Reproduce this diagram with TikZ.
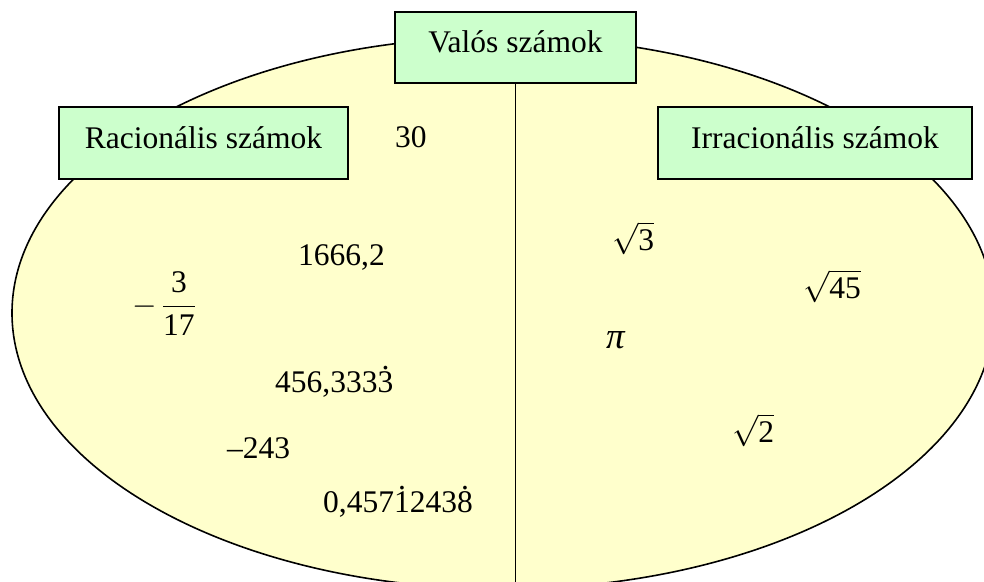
\RequirePackage{fix-cm}
\documentclass[tikz,border=0pt]{standalone}
\usepackage{fontspec}
\setmainfont{Liberation Serif}
\definecolor{ellfill}{HTML}{FFFFCC}
\definecolor{boxgreen}{HTML}{CCFFCC}
\newcommand\dotdig[1]{\ooalign{#1\cr\hidewidth\raisebox{0.7em}{.}\hidewidth\cr}}
\begin{document}
\begin{tikzpicture}[x=1pt,y=-1pt,
  every node/.style={font=\fontsize{31.5}{38}\selectfont, inner sep=0pt},
  box/.style={draw, line width=1.6pt, fill=boxgreen, text height=22pt, text depth=12pt},
  num/.style={anchor=base west}]
\useasboundingbox (0,0) rectangle (984,581);
\clip (0,0) rectangle (984,581);
\draw[fill=ellfill, line width=1.6pt] (503,313) ellipse [x radius=491pt, y radius=276pt];
\node[box, minimum width=241pt, minimum height=71pt] (valos) at (515.5,47.5) {Valós számok\hspace{18pt}};
\coordinate (bottom) at (515.5,590);
\draw[line width=1.8pt] (valos.south) -- (bottom);
\node[box, minimum width=289pt, minimum height=72pt] (rac) at (203.5,143) {Racionális számok};
\node[box, minimum width=314pt, minimum height=72pt] (irr) at (815,143) {Irracionális számok\hspace{22pt}};
\node[num] (n30) at (395,147) {30};
\node[num] (n1666) at (298,265) {1666,2};
\node[anchor=west] (frac) at (132,304) {$\displaystyle -\,\frac{\mbox{3}}{\mbox{17}}$};
\node[num] (n456) at (275,392) {456,333\dotdig{3}};
\node[num] (n243) at (227,458) {–243};
\node[num] (n0457) at (323,512) {0,457\dotdig{1}243\dotdig{8}};
\node[num] (sq3) at (612,250) {$\sqrt{\mbox{3}}$};
\node[num] (sq45) at (803,298) {$\sqrt{\mbox{45}}$};
\node[num] (pi) at (606,348) {\fontsize{37}{40}\selectfont\itshape π};
\node[num] (sq2) at (732,442) {$\sqrt{\mbox{2}}$};
\end{tikzpicture}
\end{document}
